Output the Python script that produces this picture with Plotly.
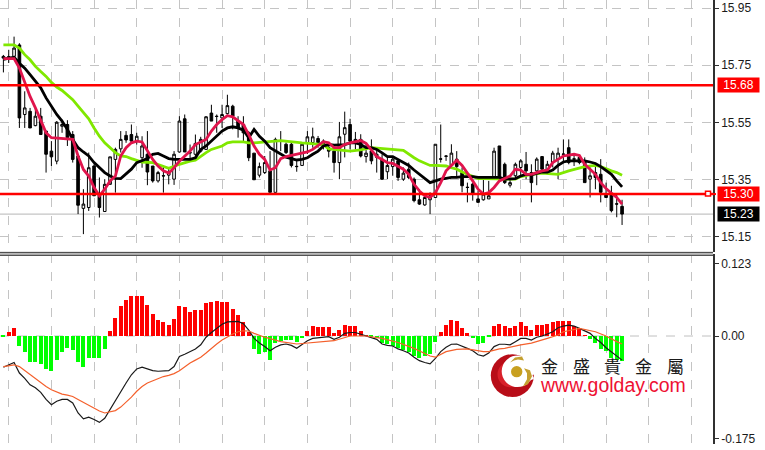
import plotly.graph_objects as go

W, H = 765, 450

# ---- price candles (one per bar)
opens = [15.781,15.780,15.781,15.821,15.578,15.589,15.539,15.572,15.520,15.450,15.415,15.537,15.543,15.508,15.433,15.250,15.253,15.398,15.296,15.239,
 15.334,15.421,15.458,15.505,15.508,15.485,15.427,15.439,15.398,15.346,15.363,15.366,15.352,15.447,15.563,15.445,15.439,15.450,15.456,15.583,
 15.572,15.566,15.581,15.607,15.555,15.543,15.514,15.443,15.366,15.375,15.381,15.306,15.486,15.474,15.474,15.397,15.400,15.480,15.480,15.494,
 15.485,15.462,15.450,15.410,15.509,15.543,15.491,15.491,15.431,15.451,15.428,15.422,15.378,15.396,15.416,15.352,15.387,15.352,15.280,15.262,
 15.280,15.288,15.423,15.433,15.400,15.422,15.375,15.324,15.335,15.283,15.280,15.283,15.358,15.468,15.404,15.331,15.364,15.393,15.404,15.375,
 15.381,15.431,15.385,15.410,15.422,15.440,15.462,15.423,15.428,15.416,15.352,15.375,15.369,15.300,15.300,15.266,15.257]
highs = [15.786,15.804,15.850,15.827,15.659,15.601,15.607,15.601,15.520,15.485,15.555,15.560,15.558,15.520,15.433,15.317,15.445,15.404,15.358,15.352,
 15.430,15.462,15.520,15.520,15.543,15.514,15.502,15.520,15.398,15.381,15.398,15.392,15.450,15.572,15.578,15.473,15.508,15.500,15.572,15.612,
 15.578,15.612,15.647,15.612,15.572,15.572,15.520,15.443,15.410,15.433,15.450,15.497,15.520,15.480,15.480,15.416,15.474,15.520,15.532,15.503,
 15.491,15.468,15.462,15.552,15.588,15.563,15.517,15.509,15.474,15.491,15.462,15.439,15.428,15.433,15.416,15.393,15.410,15.358,15.317,15.294,
 15.306,15.474,15.543,15.436,15.474,15.450,15.393,15.340,15.340,15.312,15.358,15.346,15.462,15.468,15.410,15.352,15.410,15.422,15.447,15.404,
 15.428,15.431,15.416,15.451,15.462,15.491,15.491,15.439,15.435,15.428,15.393,15.399,15.422,15.340,15.329,15.300,15.280]
lows = [15.725,15.758,15.775,15.531,15.531,15.531,15.537,15.508,15.375,15.398,15.404,15.514,15.468,15.410,15.230,15.160,15.241,15.294,15.218,15.239,
 15.340,15.305,15.445,15.479,15.479,15.473,15.392,15.331,15.340,15.340,15.305,15.334,15.332,15.445,15.447,15.415,15.433,15.445,15.456,15.555,
 15.514,15.531,15.578,15.526,15.497,15.479,15.415,15.350,15.358,15.370,15.306,15.306,15.450,15.440,15.393,15.378,15.400,15.440,15.462,15.462,
 15.456,15.428,15.375,15.352,15.428,15.456,15.456,15.428,15.410,15.404,15.375,15.350,15.352,15.364,15.346,15.346,15.352,15.271,15.262,15.259,
 15.230,15.288,15.410,15.416,15.396,15.358,15.306,15.271,15.277,15.271,15.277,15.283,15.352,15.358,15.335,15.323,15.358,15.364,15.352,15.271,
 15.331,15.381,15.378,15.393,15.352,15.410,15.404,15.398,15.404,15.340,15.288,15.317,15.271,15.288,15.236,15.219,15.192]
closes = [15.775,15.778,15.810,15.566,15.601,15.531,15.572,15.508,15.439,15.430,15.551,15.543,15.497,15.421,15.261,15.265,15.392,15.294,15.253,15.334,
 15.430,15.456,15.491,15.489,15.485,15.502,15.468,15.377,15.346,15.375,15.364,15.377,15.439,15.555,15.447,15.444,15.477,15.491,15.570,15.555,
 15.571,15.578,15.609,15.572,15.531,15.514,15.427,15.350,15.396,15.410,15.306,15.491,15.485,15.445,15.400,15.396,15.474,15.500,15.500,15.480,
 15.468,15.450,15.410,15.500,15.532,15.485,15.485,15.433,15.443,15.416,15.439,15.352,15.400,15.422,15.358,15.373,15.358,15.277,15.265,15.288,
 15.294,15.474,15.422,15.432,15.443,15.396,15.329,15.323,15.300,15.271,15.300,15.294,15.450,15.358,15.340,15.340,15.404,15.416,15.381,15.340,
 15.422,15.387,15.404,15.443,15.443,15.439,15.410,15.422,15.410,15.340,15.364,15.358,15.306,15.288,15.242,15.265,15.230]

# ---- moving averages
ma_fast = [15.773,15.773,15.773,15.740,15.688,15.641,15.601,15.555,15.514,15.497,15.495,15.493,15.492,15.491,15.433,15.386,15.363,15.323,15.294,15.317,
 15.346,15.363,15.433,15.462,15.479,15.485,15.482,15.450,15.421,15.398,15.381,15.373,15.392,15.415,15.433,15.450,15.473,15.482,15.491,15.520,
 15.543,15.560,15.574,15.570,15.558,15.543,15.508,15.468,15.439,15.421,15.384,15.392,15.424,15.431,15.435,15.439,15.442,15.447,15.456,15.470,
 15.483,15.479,15.462,15.462,15.473,15.479,15.483,15.487,15.477,15.454,15.431,15.421,15.410,15.407,15.396,15.387,15.369,15.334,15.311,15.294,
 15.288,15.305,15.340,15.381,15.400,15.418,15.400,15.375,15.346,15.317,15.300,15.305,15.323,15.346,15.355,15.363,15.387,15.384,15.369,15.369,
 15.375,15.381,15.384,15.410,15.421,15.433,15.436,15.439,15.435,15.404,15.387,15.369,15.340,15.319,15.303,15.288,15.265]
ma_mid = [15.771,15.775,15.778,15.757,15.740,15.717,15.694,15.671,15.636,15.607,15.578,15.555,15.526,15.491,15.462,15.447,15.433,15.410,15.392,15.375,
 15.363,15.355,15.354,15.369,15.387,15.410,15.418,15.424,15.439,15.442,15.433,15.424,15.421,15.421,15.421,15.421,15.427,15.456,15.468,15.485,
 15.502,15.520,15.531,15.535,15.531,15.523,15.497,15.526,15.502,15.485,15.462,15.450,15.439,15.429,15.424,15.419,15.421,15.427,15.439,15.450,
 15.468,15.473,15.471,15.471,15.473,15.479,15.479,15.473,15.462,15.462,15.456,15.444,15.431,15.431,15.421,15.412,15.400,15.384,15.369,15.354,
 15.340,15.346,15.352,15.355,15.358,15.358,15.361,15.361,15.361,15.358,15.358,15.358,15.358,15.358,15.352,15.354,15.354,15.363,15.369,15.367,
 15.373,15.377,15.377,15.384,15.400,15.412,15.416,15.416,15.416,15.416,15.412,15.407,15.396,15.384,15.369,15.346,15.325]
ma_slow_bar = [0,2,3,4,5,6,7,8,9,10,11,12,13,14,15,16,17,18,19,20,21,22,23,24,25,26,28,29,30,31,33,34,35,36,37,38,39,40,41,42,43,45,46,
 47,49,51,52,56,60,61,65,67,69,75,76,77,78,79,80,81,83,84,85,86,87,88,89,90,93,94,96,97,99,101,104,106,109,111,112,114,115,116]
ma_slow = [15.821,15.821,15.810,15.787,15.769,15.746,15.728,15.711,15.690,15.674,15.662,15.647,15.630,15.607,15.586,15.563,15.531,15.502,15.479,15.462,15.445,15.433,15.431,15.424,15.419,15.412,15.410,15.404,15.398,15.390,15.404,15.410,15.415,15.418,15.433,15.445,15.456,15.462,15.468,15.479,15.482,15.482,15.479,
 15.479,15.482,15.485,15.487,15.479,15.473,15.458,15.450,15.454,15.462,15.453,15.439,15.427,15.416,15.407,15.400,15.400,15.398,15.392,15.387,15.377,15.369,15.361,15.354,15.354,15.354,15.352,15.352,15.361,15.369,15.373,15.369,15.381,15.396,15.400,15.396,15.381,15.375,15.366]

# ---- MACD pane
hist = [-0.001,0.0056,0.0124,-0.017,-0.028,-0.044,-0.044,-0.049,-0.056,-0.060,-0.041,-0.027,-0.021,-0.024,-0.044,-0.054,-0.038,-0.038,-0.038,-0.022,
 0.0073,0.030,0.050,0.061,0.068,0.068,0.068,0.0525,0.0367,0.027,0.0226,0.0186,0.028,0.051,0.048,0.041,0.0435,0.0435,0.055,0.057,
 0.059,0.057,0.057,0.046,0.0345,0.023,0.007,-0.022,-0.031,-0.028,-0.042,-0.012,-0.0096,-0.008,-0.008,-0.011,-0.004,0.0085,0.016,0.014,
 0.014,0.014,0.0045,0.010,0.0186,0.016,0.016,0.0073,0.001,-0.002,-0.004,-0.012,-0.015,-0.018,-0.021,-0.024,-0.028,-0.034,-0.038,-0.034,
 -0.032,-0.011,0.006,0.0186,0.027,0.025,0.013,0.0045,-0.004,-0.0136,-0.012,-0.002,0.016,0.020,0.017,0.013,0.017,0.0226,0.017,0.010,
 0.0186,0.0186,0.020,0.0226,0.025,0.025,0.025,0.016,0.013,0.001,-0.0056,-0.012,-0.0226,-0.0266,-0.038,-0.041,-0.0435]
macd = [-0.0531,-0.049,-0.045,-0.063,-0.072,-0.083,-0.088,-0.096,-0.108,-0.117,-0.111,-0.108,-0.108,-0.114,-0.131,-0.141,-0.138,-0.142,-0.147,-0.140,
 -0.125,-0.108,-0.094,-0.080,-0.066,-0.056,-0.053,-0.056,-0.059,-0.060,-0.059,-0.059,-0.052,-0.035,-0.031,-0.027,-0.022,-0.015,-0.002,0.006,
 0.013,0.020,0.024,0.025,0.025,0.021,0.010,-0.004,-0.012,-0.018,-0.025,-0.019,-0.015,-0.0136,-0.016,-0.021,-0.015,-0.008,-0.004,-0.003,
 -0.003,-0.001,-0.0056,-0.002,0.0045,0.006,0.006,0.0034,0.000,-0.003,-0.0056,-0.0136,-0.016,-0.017,-0.022,-0.025,-0.029,-0.036,-0.042,-0.045,
 -0.0475,-0.038,-0.0266,-0.019,-0.014,-0.0136,-0.018,-0.021,-0.025,-0.032,-0.034,-0.029,-0.018,-0.014,-0.014,-0.015,-0.0096,-0.004,-0.004,-0.0068,
 -0.002,0.000,0.0034,0.0073,0.014,0.017,0.0186,0.017,0.013,0.0085,0.0045,-0.004,-0.011,-0.020,-0.0266,-0.034,-0.041]
signal_bar = [0,2,3,4,5,6,7,8,9,10,11,12,13,14,15,16,17,18,19,20,21,22,23,24,25,26,27,28,29,30,31,32,33,34,35,36,37,38,39,40,41,42,43,44,45,46,47,
 49,52,55,57,59,62,65,68,71,74,77,80,81,83,85,87,90,91,93,94,97,99,102,104,105,108,111,113,115,116]
signal = [-0.052,-0.049,-0.052,-0.059,-0.066,-0.073,-0.079,-0.086,-0.0915,-0.0955,-0.099,-0.1006,-0.103,-0.108,-0.113,-0.1186,-0.123,-0.1277,-0.131,-0.129,-0.127,-0.121,-0.113,-0.104,-0.094,-0.086,-0.080,-0.076,-0.072,-0.069,-0.067,-0.064,-0.059,-0.052,-0.046,-0.041,-0.036,-0.029,-0.021,-0.0136,-0.0068,-0.001,0.0034,0.0073,0.009,0.0085,0.0045,
 -0.002,-0.0096,-0.0136,-0.012,-0.0096,-0.008,0.000,0.000,-0.004,-0.011,-0.021,-0.034,-0.036,-0.0266,-0.0226,-0.022,-0.0266,-0.0266,-0.022,-0.021,-0.015,-0.012,-0.004,0.0017,0.0073,0.013,0.0073,0.000,-0.0096,-0.0136]

# ---- axes and labels
price_ticks = [15.95, 15.75, 15.55, 15.35, 15.15]
price_tick_text = ["15.95", "15.75", "15.55", "15.35", "15.15"]
macd_ticks = [0.123, 0.0, -0.175]
macd_tick_text = ["0.123", "0.00", "-0.175"]
grid_bars = [1, 9, 17, 25, 33, 41, 49, 57, 65, 73, 81, 89, 97, 105, 113, 121, 129]
resistance, support, last_price = 15.68, 15.30, 15.23
logo_chars = ["金", "盛", "貴", "金", "屬"]
logo_url = "www.golday.com"

bars = list(range(len(opens)))

BAR_PX, BAR0_PX = 16 / 3, 3.4
AXIS_PX = 713
xrange = [(0 - BAR0_PX) / BAR_PX, (AXIS_PX - BAR0_PX) / BAR_PX]


def px(x):
    return x / W


def py(y):
    return 1 - y / H


fig = go.Figure()

fig.add_trace(go.Candlestick(
    x=bars, open=opens, high=highs, low=lows, close=closes, xaxis="x", yaxis="y",
    increasing=dict(line=dict(color="#000000", width=1), fillcolor="#ffffff"),
    decreasing=dict(line=dict(color="#000000", width=1), fillcolor="#000000"),
    whiskerwidth=0, showlegend=False, hoverinfo="skip"))
fig.add_trace(go.Scatter(x=ma_slow_bar, y=ma_slow, mode="lines", line=dict(color="#80e800", width=2.8),
                         xaxis="x", yaxis="y", showlegend=False, hoverinfo="skip"))
fig.add_trace(go.Scatter(x=bars, y=ma_mid, mode="lines", line=dict(color="#000000", width=2.8),
                         xaxis="x", yaxis="y", showlegend=False, hoverinfo="skip"))
fig.add_trace(go.Scatter(x=bars, y=ma_fast, mode="lines", line=dict(color="#e0144c", width=2.8),
                         xaxis="x", yaxis="y", showlegend=False, hoverinfo="skip"))

fig.add_trace(go.Bar(x=bars, y=hist, width=0.72,
                     marker=dict(color=["#ff0000" if v > 0 else "#00ff00" for v in hist], line=dict(width=0)),
                     xaxis="x2", yaxis="y2", showlegend=False, hoverinfo="skip"))
fig.add_trace(go.Scatter(x=bars, y=macd, mode="lines", line=dict(color="#1a1a1a", width=1.2),
                         xaxis="x2", yaxis="y2", showlegend=False, hoverinfo="skip"))
fig.add_trace(go.Scatter(x=signal_bar, y=signal, mode="lines", line=dict(color="#f4602c", width=1.2),
                         xaxis="x2", yaxis="y2", showlegend=False, hoverinfo="skip"))

shapes = []
ax_x1 = px(AXIS_PX)
# price level lines
shapes.append(dict(type="line", xref="paper", yref="y", x0=0, x1=ax_x1, y0=last_price, y1=last_price,
                   line=dict(color="#c4c4c4", width=1.4), layer="below"))
for lvl in (resistance, support):
    shapes.append(dict(type="line", xref="paper", yref="y", x0=0, x1=ax_x1, y0=lvl, y1=lvl,
                       line=dict(color="#ff0000", width=2.6)))
# alert square on support line
shapes.append(dict(type="rect", xref="paper", yref="paper", x0=px(705.5), x1=px(710.5), y0=py(197), y1=py(192),
                   fillcolor="#ffffff", line=dict(color="#ff0000", width=1.5)))
shapes.append(dict(type="line", xref="paper", yref="y", x0=ax_x1, x1=px(716), y0=support, y1=support,
                   line=dict(color="#ff0000", width=2)))
# MACD zero line
shapes.append(dict(type="line", xref="paper", yref="y2", x0=0, x1=ax_x1, y0=0, y1=0,
                   line=dict(color="#c0c0c0", width=1, dash="dash"), layer="below"))
# pane separator
shapes.append(dict(type="rect", xref="paper", yref="paper", x0=0, x1=ax_x1, y0=py(257), y1=py(253),
                   fillcolor="#b8b8b8", line=dict(width=0), layer="above"))
for yy in (253.5, 256.5):
    shapes.append(dict(type="line", xref="paper", yref="paper", x0=0, x1=ax_x1, y0=py(yy), y1=py(yy),
                       line=dict(color="#404040", width=1)))


# logo
def circle(cx, cy, r, color):
    return dict(type="circle", xref="paper", yref="paper", x0=px(cx - r), x1=px(cx + r),
                y0=py(cy + r), y1=py(cy - r), fillcolor=color, line=dict(width=0))


def pth(points, color):
    d = "M " + " L ".join(f"{px(a):.5f},{py(b):.5f}" for a, b in points) + " Z"
    return dict(type="path", xref="paper", yref="paper", path=d, fillcolor=color, line=dict(width=0))


shapes.append(circle(512.3, 377.3, 21.5, "#b80d18"))
shapes.append(circle(510.5, 376, 13, "#d8202a"))
shapes.append(circle(517.5, 373, 15.8, "#ffffff"))
shapes.append(pth([(530, 357), (536, 366), (534, 376), (526, 384), (533, 381), (535, 376), (534, 382), (530, 366)], "#ffffff"))
shapes.append(circle(516.7, 373.3, 5.7, "#c8a020"))
shapes.append(pth([(510, 364), (515, 359), (522, 358), (524, 362), (518, 361), (514, 362)], "#c4a030"))
shapes.append(pth([(524, 370), (530, 372), (532, 378), (528, 386), (523, 388), (527, 381), (527, 375)], "#c4a030"))

annos = []
for lvl, bg in ((resistance, "#ff0000"), (support, "#ff0000"), (last_price, "#000000")):
    annos.append(dict(xref="paper", yref="y", x=px(716.5), y=lvl, xanchor="left", yanchor="middle",
                      text=f"{lvl:.2f}", showarrow=False, bgcolor=bg, width=41, height=14, borderpad=0,
                      align="center", font=dict(color="#ffffff", size=12, family="Liberation Sans")))
for ch, cx in zip(logo_chars, (549, 581, 612.3, 643.7, 675)):
    annos.append(dict(xref="paper", yref="paper", x=px(cx), y=py(367), xanchor="center", yanchor="middle",
                      text=ch, showarrow=False, font=dict(color="#1a1a1a", size=17, family="Noto Sans CJK TC")))
annos.append(dict(xref="paper", yref="paper", x=px(612.5), y=py(387), xanchor="center", yanchor="middle",
                  text=logo_url, showarrow=False, font=dict(color="#ee1133", size=19.5, family="Liberation Sans")))

tick_font = dict(color="#1a1a1a", size=12, family="Liberation Sans")
grid_x = dict(showgrid=True, gridcolor="#c4c4c4", griddash="dash", gridwidth=1, tickmode="array",
              tickvals=grid_bars, showticklabels=False, ticks="", zeroline=False, showline=False,
              range=xrange, fixedrange=True, rangeslider=dict(visible=False))

fig.update_layout(
    width=W, height=H, margin=dict(l=0, r=0, t=0, b=0), paper_bgcolor="#ffffff", plot_bgcolor="#ffffff",
    showlegend=False, bargap=0, barmode="overlay", boxgap=0.3,
    xaxis=dict(domain=[0, px(AXIS_PX)], anchor="y", **grid_x),
    xaxis2=dict(domain=[0, px(AXIS_PX)], anchor="y2", **grid_x),
    yaxis=dict(domain=[py(253), 1], side="right", anchor="x", range=[15.098, 15.978], tickmode="array",
               tickvals=price_ticks, ticktext=price_tick_text, showgrid=True, gridcolor="#c4c4c4",
               griddash="dash", gridwidth=1, zeroline=False, showline=True, linecolor="#303030", linewidth=1.5,
               ticks="outside", ticklen=4, tickcolor="#303030", tickfont=tick_font, fixedrange=True),
    yaxis2=dict(domain=[py(445.5), py(255.5)], side="right", anchor="x2", range=[-0.183, 0.139], tickmode="array",
                tickvals=macd_ticks, ticktext=macd_tick_text, showgrid=False, zeroline=False, showline=True,
                linecolor="#303030", linewidth=1.5, ticks="outside", ticklen=4, tickcolor="#303030",
                tickfont=tick_font, fixedrange=True),
    shapes=shapes, annotations=annos,
)

fig.write_html("out.html", config={"displayModeBar": False},
               post_script="document.body.style.margin='0';")
